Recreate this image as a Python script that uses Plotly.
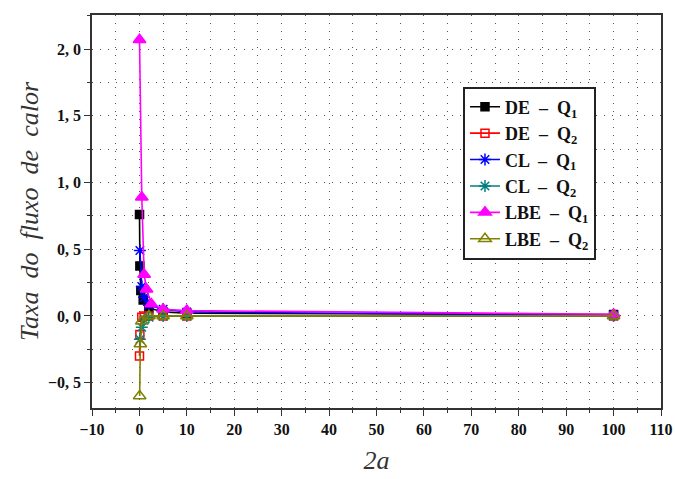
import plotly.graph_objects as go

# ---- data ----
de_q1_x = [0.02, 0.1, 0.3, 0.8, 2, 5, 10, 100]
de_q1_y = [0.76, 0.375, 0.19, 0.12, 0.06, 0.03, 0.02, 0.01]

de_q2_x = [0.02, 0.1, 0.5, 1, 2, 5, 10, 100]
de_q2_y = [-0.30, -0.14, -0.01, 0.0, 0.0, 0.0, 0.0, 0.0]

cl_q1_x = [0.1, 0.5, 1, 2, 5, 10, 100]
cl_q1_y = [0.49, 0.22, 0.14, 0.08, 0.05, 0.03, 0.005]

cl_q2_x = [0.1, 0.5, 1, 2, 5, 10, 100]
cl_q2_y = [-0.175, -0.085, -0.03, -0.01, 0.0, 0.0, 0.0]

lbe_q1_x = [0.02, 0.5, 1, 1.5, 2.5, 5, 10, 100]
lbe_q1_y = [2.07, 0.89, 0.31, 0.20, 0.09, 0.05, 0.04, 0.012]

lbe_q2_x = [0.05, 0.2, 0.5, 2, 5, 10, 100]
lbe_q2_y = [-0.60, -0.21, -0.04, 0.0, 0.0, 0.0, 0.0]

x_ticks = [-10, 0, 10, 20, 30, 40, 50, 60, 70, 80, 90, 100, 110]
y_ticks = [-0.5, 0.0, 0.5, 1.0, 1.5, 2.0]
y_tick_labels = ["\u22120, 5", "0, 0", "0, 5", "1, 0", "1, 5", "2, 0"]
x_tick_labels = ["\u221210" if v < 0 else str(v) for v in x_ticks]

series = [
    ("DE  \u2013  Q<sub>1</sub>", de_q1_x, de_q1_y, "#000000", "square", 8, "#000000"),
    ("DE  \u2013  Q<sub>2</sub>", de_q2_x, de_q2_y, "#ff0000", "square-open", 8, "#ff0000"),
    ("CL  \u2013  Q<sub>1</sub>", cl_q1_x, cl_q1_y, "#0000ff", "asterisk-open", 10, "#0000ff"),
    ("CL  \u2013  Q<sub>2</sub>", cl_q2_x, cl_q2_y, "#008080", "asterisk-open", 10, "#008080"),
    ("LBE  \u2013  Q<sub>1</sub>", lbe_q1_x, lbe_q1_y, "#ff00ff", "triangle-up", 11, "#ff00ff"),
    ("LBE  \u2013  Q<sub>2</sub>", lbe_q2_x, lbe_q2_y, "#808000", "triangle-up-open", 11, "#808000"),
]

fig = go.Figure()
for name, xs, ys, col, sym, size, lc in series:
    fig.add_trace(go.Scatter(
        x=xs, y=ys, name=name, mode="lines+markers",
        line=dict(color=col, width=1.6),
        marker=dict(symbol=sym, size=size, color=col,
                    line=dict(color=lc, width=1.5)),
    ))

serif = "Liberation Serif"
grid_col = "#555555"

fig.update_layout(
    width=675, height=479,
    margin=dict(l=92, r=14, t=15, b=71),
    paper_bgcolor="white", plot_bgcolor="white",
    showlegend=True,
    legend=dict(
        x=0.652, y=0.818, xanchor="left", yanchor="top",
        bgcolor="white", bordercolor="#222222", borderwidth=2,
        font=dict(family=serif, size=18, color="#111111", weight="bold"),
        tracegroupgap=0, itemwidth=30,
    ),
    font=dict(family=serif),
)

fig.update_xaxes(
    range=[-10, 110], automargin=False,
    tickvals=x_ticks, ticktext=x_tick_labels,
    tickfont=dict(family=serif, size=16, color="#111111", weight="bold"),
    ticks="outside", ticklen=6, tickcolor="#333333", tickwidth=1.2,
    showline=True, linecolor="#333333", linewidth=1.6, mirror=True,
    showgrid=True, gridcolor=grid_col, gridwidth=1, griddash="1px,7px",
    minor=dict(dtick=5, tick0=0, ticks="outside", ticklen=3, tickcolor="#333333",
               showgrid=True, gridcolor=grid_col, gridwidth=1, griddash="1px,7px"),
    zeroline=False,
    title=dict(text="<i>2a</i>", font=dict(family=serif, size=26, color="#333333"), standoff=14),
)

fig.update_yaxes(
    range=[-0.69, 2.255], automargin=False,
    tickvals=y_ticks, ticktext=y_tick_labels,
    tickfont=dict(family=serif, size=16, color="#111111", weight="bold"),
    ticks="outside", ticklen=6, tickcolor="#333333", tickwidth=1.2,
    showline=True, linecolor="#333333", linewidth=1.6, mirror=True,
    showgrid=True, gridcolor=grid_col, gridwidth=1, griddash="1px,7px",
    minor=dict(dtick=0.25, tick0=0, ticks="outside", ticklen=3, tickcolor="#333333",
               showgrid=True, gridcolor=grid_col, gridwidth=1, griddash="1px,7px"),
    zeroline=False,
    title=dict(text="<i>Taxa\u00a0 do\u00a0 fluxo\u00a0 de\u00a0 calor</i>",
               font=dict(family=serif, size=26, color="#333333"), standoff=2),
)

fig.write_html("out.html")
